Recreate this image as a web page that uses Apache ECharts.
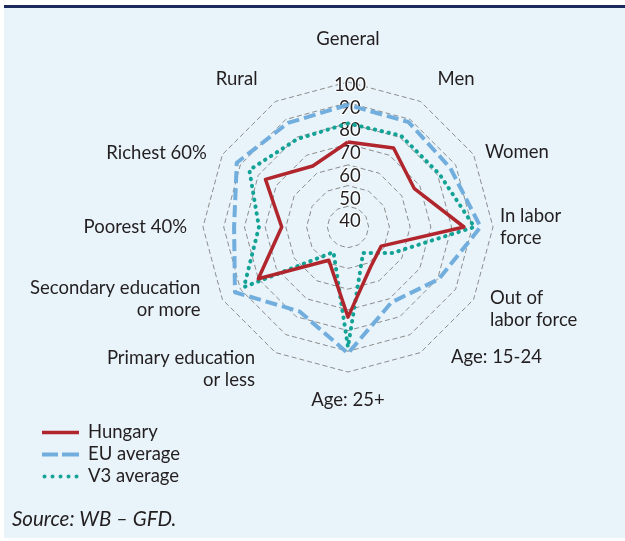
<!DOCTYPE html>
<html>
<head>
<meta charset="utf-8">
<script src="https://cdn.jsdelivr.net/npm/echarts@6/dist/echarts.min.js"></script>
<style>
  html, body { margin: 0; padding: 0; background: #fff; }
  #panel {
    position: absolute; left: 4px; top: 5px; width: 621px; height: 530px;
    background: #E8F3FA; border-top: 3px solid #1C2A5E;
  }
  #chart { position: absolute; left: 0; top: 0; width: 625px; height: 541px; }
</style>
</head>
<body>
<div id="panel"></div>
<div id="chart"></div>
<script>
// categories listed clockwise starting from the top
const categories = ['General', 'Men', 'Women', 'In labor\nforce', 'Out of\nlabor force',
  'Age: 15-24', 'Age: 25+', 'Primary education\nor less', 'Secondary education\nor more',
  'Poorest 40%', 'Richest 60%', 'Rural'];
const hungary = [71, 74, 67, 86, 48.5, 52, 73.5, 48.5, 80, 62, 76, 64];
const euAverage = [89, 88.5, 87, 94, 80.5, 72, 91, 77, 93, 85, 92, 88];
const v3Average = [80, 81, 81, 91, 55, 44.5, 88, 44, 88, 73, 85, 79];
const seriesNames = ['Hungary', 'EU average', 'V3 average'];
const tickLabels = [40, 50, 60, 70, 80, 90, 100];

const FONT = 'Lato, "Open Sans", sans-serif';
const TEXT = '#231F20';

// label placement tweaks (name gap + padding), Excel puts names a bit off the spokes
const nameLayout = {
  'General': { gap: 32 },
  'Men': { gap: 26, padding: [0, 0, 0, 4] },
  'Women': { gap: 5, padding: [0, 0, 0, 7] },
  'In labor\nforce': { gap: 7, padding: [0, 0, 5, 0] },
  'Out of\nlabor force': { gap: 19 },
  'Age: 15-24': { gap: 5, padding: [0, 0, 0, 28] },
  'Age: 25+': { gap: 17 },
  'Primary education\nor less': { gap: 19, padding: [0, 11, 0, 0] },
  'Secondary education\nor more': { gap: 0, padding: [0, 22, 6, 0] },
  'Poorest 40%': { gap: 16 },
  'Richest 60%': { gap: 3, padding: [0, 13, 0, 0] },
  'Rural': { gap: 26, padding: [0, 5, 0, 0] }
};

// tick labels drift downward a little more than the rings do
const labelRich = {};
tickLabels.forEach(function (v) {
  labelRich['t' + v] = {
    color: TEXT, fontSize: 18.5, fontFamily: FONT,
    textBorderColor: '#fff', textBorderWidth: 2,
    padding: [Math.round(6 + (100 - v) * 0.4), 0, 0, 0]
  };
});

// ECharts places radar indicators counter-clockwise, so flip everything after the first
function clockwise(arr) {
  return [arr[0]].concat(arr.slice(1).reverse());
}

const chart = echarts.init(document.getElementById('chart'));

chart.setOption({
  animation: false,
  textStyle: { fontFamily: FONT },
  legend: {
    orient: 'vertical',
    left: 42,
    top: 423,
    padding: 0,
    itemWidth: 37,
    itemHeight: 4,
    itemGap: 3,
    textStyle: { fontSize: 18.5, color: TEXT, fontFamily: FONT, padding: [0, 0, 0, 4] },
    data: [
      { name: 'Hungary', icon: 'path://M0,0H37V3.4H0Z' },
      { name: 'EU average', icon: 'path://M0,0H16V4H0Z M20,0H37V4H20Z' },
      { name: 'V3 average', icon: 'path://M0,2a2,2 0 1,0 4,0a2,2 0 1,0 -4,0Z M8,2a2,2 0 1,0 4,0a2,2 0 1,0 -4,0Z M16,2a2,2 0 1,0 4,0a2,2 0 1,0 -4,0Z M24,2a2,2 0 1,0 4,0a2,2 0 1,0 -4,0Z M32,2a2,2 0 1,0 4,0a2,2 0 1,0 -4,0Z' }
    ]
  },
  radar: {
    center: [348, 227],
    radius: 145,
    startAngle: 90,
    splitNumber: 7,
    shape: 'polygon',
    axisNameGap: 20,
    axisName: {
      color: TEXT,
      fontSize: 18.5,
      fontFamily: FONT,
      lineHeight: 22
    },
    indicator: clockwise(categories).map(function (c, i) {
      const lay = nameLayout[c];
      return {
        name: c, min: 30, max: 100,
        nameGap: lay.gap,
        nameTextStyle: { padding: lay.padding || 0 },
        axisLabel: {
          show: i === 0,
          align: 'center',
          margin: -2,
          rich: labelRich,
          formatter: function (v) { return v === 30 ? '' : '{t' + v + '|' + v + '}'; }
        }
      };
    }),
    axisLine: { show: false },
    axisTick: { show: false },
    splitArea: { show: false },
    splitLine: { lineStyle: { color: '#8c8c8c', width: 1, type: [5, 3] } }
  },
  series: [{
    type: 'radar',
    symbol: 'none',
    data: [
      {
        name: seriesNames[1], value: clockwise(euAverage),
        lineStyle: { color: '#72AEDD', width: 4, type: [12, 5] },
        itemStyle: { color: '#72AEDD' }
      },
      {
        name: seriesNames[2], value: clockwise(v3Average),
        lineStyle: { color: '#13A396', width: 4, type: [0.5, 6.5], cap: 'round' },
        itemStyle: { color: '#13A396' }
      },
      {
        name: seriesNames[0], value: clockwise(hungary),
        lineStyle: { color: '#B0262C', width: 3.5 },
        itemStyle: { color: '#B0262C' }
      }
    ]
  }],
  graphic: [{
    type: 'text',
    left: 12,
    top: 509,
    style: {
      text: 'Source: WB \u2013 GFD.',
      font: 'italic 20.5px ' + FONT,
      fill: TEXT
    }
  }]
});
</script>
</body>
</html>
